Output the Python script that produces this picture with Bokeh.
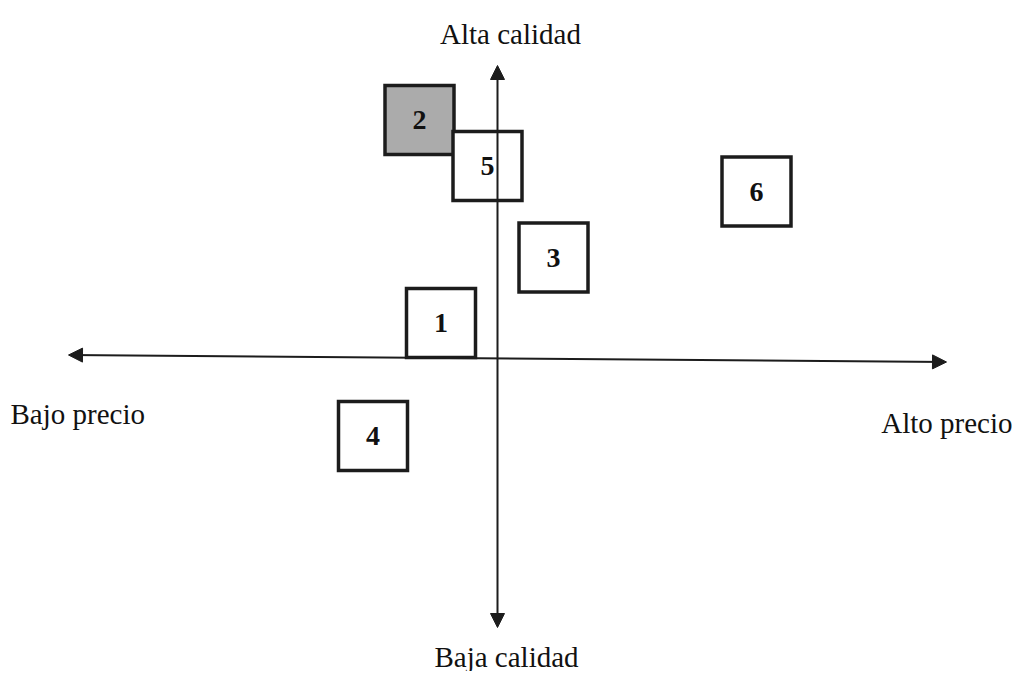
from bokeh.plotting import figure
from bokeh.models import Arrow, NormalHead, ColumnDataSource, Range1d
from bokeh.core.properties import value
from bokeh.embed import file_html
from bokeh.resources import INLINE

# Positioning map data (price score, quality score)
labels = ["1", "2", "3", "4", "5", "6"]
price = [-5.65, -7.8, 5.6, -12.45, -1.0, 25.9]
quality = [3.45, 23.75, 10.0, -7.85, 19.15, 16.6]
fills = ["white", "#ababab", "white", "white", "white", "white"]
box_size = 6.9

# Axis arrows (start/end in data space)
h_axis = [-42.9, 0.25, 44.9, -0.45]
v_axis = [0.0, 29.2, 0.0, -27.0]

# Axis labels
axis_text = ["Alta calidad", "Baja calidad", "Bajo precio", "Alto precio"]
axis_x = [1.3, 0.9, -48.7, 51.5]
axis_y = [32.4, -29.9, -5.6, -6.5]
axis_align = ["center", "center", "left", "right"]

p = figure(width=1016, height=671, output_backend="svg", toolbar_location=None,
           x_range=Range1d(-49.7, 51.9), y_range=Range1d(-31.4, 35.7),
           min_border=0, outline_line_color=None)
p.axis.visible = False
p.grid.visible = False
p.background_fill_color = "white"
p.border_fill_color = "white"

ink = "#1c1c1c"
for a in (h_axis, v_axis):
    p.add_layout(Arrow(start=NormalHead(size=14, fill_color=ink, line_color=ink, line_width=1),
                       end=NormalHead(size=14, fill_color=ink, line_color=ink, line_width=1),
                       x_start=a[0], y_start=a[1], x_end=a[2], y_end=a[3],
                       line_color=ink, line_width=2))

src = ColumnDataSource(dict(x=price, y=quality, t=labels, f=fills))
p.rect(x="x", y="y", width=box_size, height=box_size, source=src,
       fill_color="f", line_color=ink, line_width=3.5, line_join="miter")
p.text(x="x", y="y", text="t", source=src, text_align="center", text_baseline="middle",
       text_font=value("Liberation Serif"), text_font_style="bold",
       text_font_size="28px", text_color="#111111")

lsrc = ColumnDataSource(dict(x=axis_x, y=axis_y, t=axis_text, a=axis_align))
p.text(x="x", y="y", text="t", source=lsrc, text_align="a", text_baseline="alphabetic",
       text_font=value("Liberation Serif"), text_font_size="29px", text_color="#111111")

open("out.html", "w").write(file_html(p, INLINE))
